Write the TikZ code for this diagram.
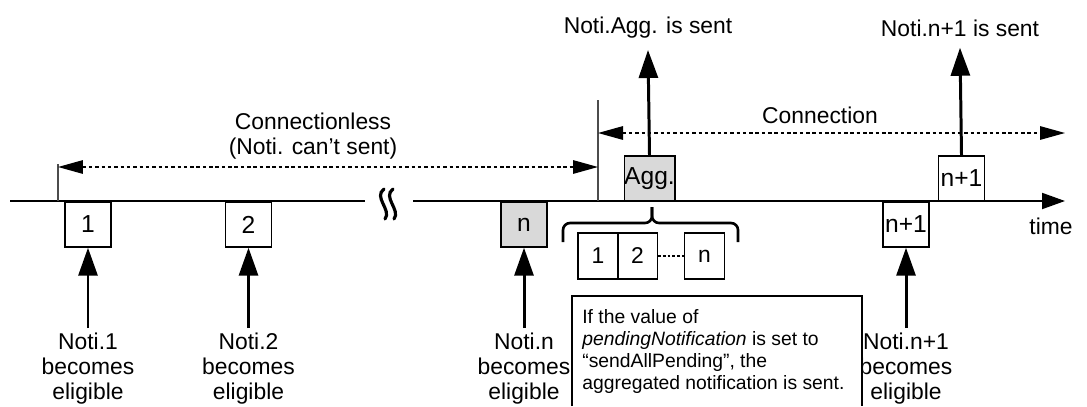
\documentclass[tikz,border=0pt]{standalone}
\usepackage{fontspec}
\setmainfont{Liberation Sans}
\usetikzlibrary{arrows.meta,positioning}
\definecolor{pend}{HTML}{D9D9D9}

\begin{document}
\begin{tikzpicture}[
  x=0.02cm, y=-0.02cm,
  lbl/.style={align=center, font=\fontsize{13}{14.2}\selectfont, inner sep=0pt},
  slot/.style={draw, line width=0.8pt, minimum width=0.92cm, minimum height=0.9cm, inner sep=0pt, font=\fontsize{14}{15}\selectfont},
  part/.style={draw, line width=0.8pt, minimum width=0.8cm, minimum height=0.92cm, inner sep=0pt, font=\fontsize{13}{14}\selectfont},
  evt/.style={-{Triangle[length=0.56cm,width=0.38cm]}, line width=1.7pt},
  span/.style={{Triangle[length=0.5cm,width=0.27cm]}-{Triangle[length=0.5cm,width=0.27cm]}, line width=0.8pt, dash pattern=on 2pt off 1.6pt},
  tick/.style={line width=0.6pt, color=black!70},
  wave/.style={line width=1.8pt, line cap=round},
  brk/.style={line width=1.5pt, rounded corners=4pt},
]
\useasboundingbox (0,0) rectangle (1087,406);

% time axis
\coordinate (ax0) at (10,201);
\coordinate (brk1) at (365,201);
\coordinate (brk2) at (413,201);
\coordinate (ax1) at (1065,201);
\draw[line width=1.1pt] (ax0) -- (brk1);
\draw[line width=1.1pt, -{Triangle[length=0.46cm,width=0.32cm]}] (brk2) -- (ax1);
\draw[wave] (384,189) .. controls (373,197) and (392,210) .. (385,219);
\draw[wave] (393,189) .. controls (382,197) and (401,210) .. (394,219);
\node[lbl] (time) at (1051,226) {time};

% connection state
\coordinate (cl0) at (58,164);
\coordinate (cl0b) at (58,201);
\coordinate (cn0) at (598,100);
\coordinate (cn0b) at (598,201);
\draw[tick] (cl0) -- (cl0b);
\draw[tick] (cn0) -- (cn0b);
\coordinate (cla) at (58,167);
\coordinate (clb) at (598,167);
\coordinate (cna) at (598,133);
\coordinate (cnb) at (1065,133);
\draw[span] (cla) -- (clb);
\draw[span] (cna) -- (cnb);
\node[lbl] (cless) at (313,136) {Connectionless\\(Noti. can’t sent)};
\node[lbl] (conn) at (820,115) {Connection};

% notifications
\node[slot] (b1) at (88,224.5) {1};
\node[slot] (b2) at (248.5,224.5) {2};
\node[slot, fill=pend] (bn) at (524,224.5) {n};
\node[slot, fill=pend] (bagg) at (649.5,178.5) {Agg.};
\node[slot] (bdn) at (906,224.5) {n+1};
\node[slot] (bup) at (961.5,178.5) {n+1};

\node[lbl, anchor=north] (e1) at (88,333) {Noti.1\\becomes\\eligible};
\node[lbl, anchor=north] (e2) at (248.5,333) {Noti.2\\becomes\\eligible};
\node[lbl, anchor=north] (en) at (524,333) {Noti.n\\becomes\\eligible};
\node[lbl, anchor=north] (edn) at (906,333) {Noti.n+1\\becomes\\eligible};
\draw[evt] (e1.north) ++(0,-5) -- (b1.south);
\draw[evt] (e2.north) ++(0,-5) -- (b2.south);
\draw[evt] (en.north) ++(0,-5) -- (bn.south);
\draw[evt] (edn.north) ++(0,-5) -- (bdn.south);

\node[lbl] (sagg) at (648,28) {Noti.Agg. is sent};
\node[lbl] (sup) at (960,28) {Noti.n+1 is sent};
\draw[evt] (bagg.north) -- ([yshift=-0.22cm]sagg.south);
\draw[evt] (bup.north) -- ([yshift=-0.22cm]sup.south);

% aggregated content
\coordinate (tip) at (652,207);
\draw[brk] (tip) -- (652,223) -- (563,223) -- (563,242);
\draw[brk] (tip) -- (652,223) -- (738,223) -- (738,242);
\node[part] (s1) at (598,256) {1};
\node[part] (s2) at (637.5,256) {2};
\node[part] (sn) at (704.5,256) {n};
\draw[line width=0.8pt, dash pattern=on 1.5pt off 1.2pt] (s2.east) -- (sn.west);

\draw[line width=0.6pt] (572,406) -- (572,296) -- (862,296) -- (862,406);
\node[align=left, anchor=north west, inner sep=0pt, font=\fontsize{11}{12.6}\selectfont] (note) at (582,309)
  {If the value of\\\textit{pendingNotification} is set to\\“sendAllPending”, the\\aggregated notification is sent.};

\end{tikzpicture}
\end{document}
